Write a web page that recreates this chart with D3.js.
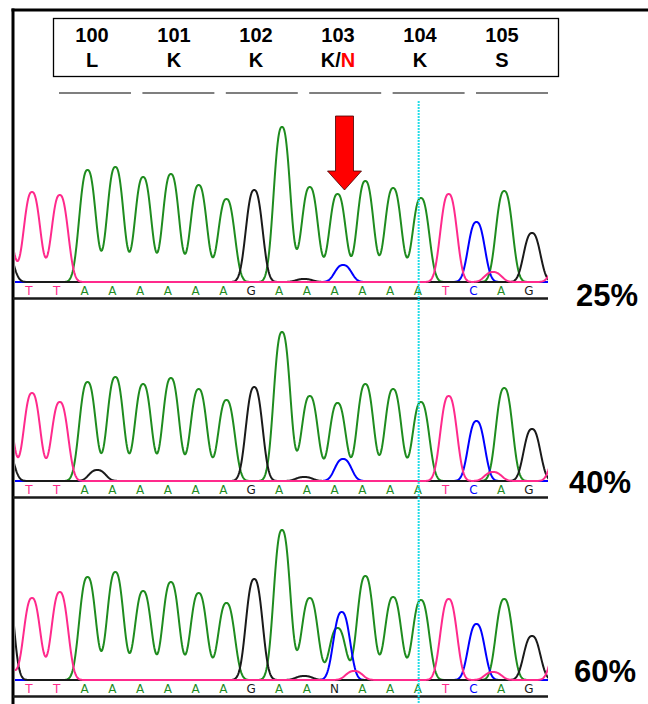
<!DOCTYPE html>
<html><head><meta charset="utf-8">
<script src="https://cdn.jsdelivr.net/npm/d3@7"></script>
<style>body{margin:0;background:#fff}svg{display:block}</style>
</head><body>
<script>
// ---------- data ----------
const codons = [100, 101, 102, 103, 104, 105];
const aminoAcids = ["L", "K", "K", "K/N", "K", "S"];
const baseCalls = ["T","T","A","A","A","A","A","A","G","A","A","A","A","A","A","T","C","A","G"];
const baseCalls60 = ["T","T","A","A","A","A","A","A","G","A","A","N","A","A","A","T","C","A","G"];
const mixLabels = ["25%", "40%", "60%"];
// primary peak heights (signal units) for each called base
const peaks25 = [90, 87, 112, 115, 105, 108, 97, 83, 92, 155, 95, 88, 101, 94, 84, 88, 60, 91, 49];
const peaks40 = [88, 79, 99, 104, 97, 103, 92, 81, 94, 149, 85, 78, 97, 92, 79, 85, 60, 93, 52];
const peaks60 = [82, 88, 103, 108, 89, 98, 87, 77, 101, 150, 82, 52, 104, 83, 80, 81, 56, 81, 44];
// secondary peaks: [channel, base position, height]
const minor25 = [["T",-1,65],["G",-1,38],["C",11.2,17],["T",16.6,10],["G",9.8,3],["T",19,20]];
const minor40 = [["T",-1,85],["G",-1,41],["G",2.35,11],["C",11.2,22],["T",16.6,9],["G",9.8,4],["T",19,37]];
const minor60 = [["T",-1,20],["G",-1,124],["C",11.15,68],["T",11.6,9],["T",16.6,8],["G",9.8,4],["T",19,42]];
const arrowPos = 11.25;
const cursorPos = 13.92;

// ---------- layout ----------
const W = 648, H = 704;
const baselines = [282, 481, 680];
const labelDy = [24, 12, 2];
const labelX = [607, 600, 605];
const colors = {A: "#1f8c1f", C: "#0000ff", G: "#1a1a1a", T: "#ff2a8c", N: "#1a1a1a"};
const panels = [
  {calls: baseCalls, peaks: peaks25, minor: minor25, label: mixLabels[0]},
  {calls: baseCalls, peaks: peaks40, minor: minor40, label: mixLabels[1]},
  {calls: baseCalls60, peaks: peaks60, minor: minor60, label: mixLabels[2]}
];

const svg = d3.select("body").append("svg").attr("width", W).attr("height", H);
const x = d3.scaleLinear().domain([0, 18]).range([32, 532]);
const traceLeft = 15, traceRight = 548;

// outer frame
svg.append("line").attr("x1", 13).attr("x2", 13).attr("y1", 8.5).attr("y2", H)
  .attr("stroke", "#000").attr("stroke-width", 3);
svg.append("line").attr("x1", 11.5).attr("x2", W).attr("y1", 10).attr("y2", 10)
  .attr("stroke", "#000").attr("stroke-width", 3);

// header box
svg.append("rect").attr("x", 53.5).attr("y", 18.5).attr("width", 505).attr("height", 58)
  .attr("fill", "none").attr("stroke", "#000").attr("stroke-width", 1.3);
const hx = d3.scalePoint().domain(codons).range([92, 502]);
const hdr = svg.append("g").attr("font-family", "Liberation Sans, Arial, sans-serif")
  .attr("font-weight", "bold").attr("font-size", 20).attr("text-anchor", "middle");
codons.forEach((c, i) => {
  hdr.append("text").attr("x", hx(c)).attr("y", 42).text(c);
  const t = hdr.append("text").attr("x", hx(c)).attr("y", 67);
  const aa = aminoAcids[i];
  if (aa.includes("/")) {
    const [a, b] = aa.split("/");
    t.append("tspan").attr("fill", "#000").text(a + "/");
    t.append("tspan").attr("fill", "#ff0000").text(b);
  } else t.text(aa);
});
const ux = d3.scaleBand().domain(codons).range([59, 548]).paddingInner(0.137).paddingOuter(0);
svg.append("g").selectAll("line").data(codons).join("line")
  .attr("x1", d => ux(d)).attr("x2", d => ux(d) + ux.bandwidth())
  .attr("y1", 93).attr("y2", 93).attr("stroke", "#555").attr("stroke-width", 1.3);

// peak shape
const shape = d => Math.exp(-Math.pow(Math.abs(d) / 0.38, 2.5));
const samples = d3.range(-1.6, 19.6, 0.02);

svg.append("defs").append("clipPath").attr("id", "traceclip")
  .append("rect").attr("x", traceLeft).attr("y", 0).attr("width", traceRight - traceLeft).attr("height", H);

panels.forEach((p, k) => {
  const b0 = baselines[k];
  const y = d3.scaleLinear().domain([0, 160]).range([b0, b0 - 160]);
  const g = svg.append("g");
  const peakList = [];
  p.calls.forEach((c, i) => {
    const ch = c === "N" ? "A" : c;
    peakList.push({ch, pos: i, h: p.peaks[i]});
  });
  p.minor.forEach(m => peakList.push({ch: m[0], pos: m[1], h: m[2]}));
  const tg = g.append("g").attr("clip-path", "url(#traceclip)");
  ["A", "C", "G", "T"].forEach(ch => {
    const pk = peakList.filter(d => d.ch === ch);
    const pts = samples.map(s => [s, d3.sum(pk, d => d.h * shape(s - d.pos))]);
    const line = d3.line().x(d => x(d[0])).y(d => y(d[1]));
    tg.append("path").attr("d", line(pts)).attr("fill", "none")
      .attr("stroke", colors[ch]).attr("stroke-width", 2).attr("stroke-linejoin", "round");
  });
  // base letters
  g.append("g").attr("font-family", "DejaVu Sans, sans-serif").attr("font-size", 12)
    .attr("text-anchor", "middle").selectAll("text").data(p.calls).join("text")
    .attr("x", (d, i) => x(i) - 3).attr("y", b0 + 12.5)
    .attr("fill", d => colors[d]).text(d => d);
  // rule
  g.append("line").attr("x1", 13).attr("x2", traceRight).attr("y1", b0 + 16.5).attr("y2", b0 + 16.5)
    .attr("stroke", "#1a1a1a").attr("stroke-width", 2.6);
  // label
  g.append("text").attr("x", labelX[k]).attr("y", b0 + labelDy[k])
    .attr("text-anchor", "middle").attr("font-family", "Liberation Sans, Arial, sans-serif")
    .attr("font-weight", "bold").attr("font-size", 31).attr("fill", "#000").text(p.label);
});

// cursor line
svg.append("line").attr("x1", x(cursorPos)).attr("x2", x(cursorPos)).attr("y1", 101).attr("y2", H)
  .attr("stroke", "#22dde8").attr("stroke-width", 2).attr("stroke-dasharray", "2,1");

// red arrow
const ax = x(arrowPos);
const arrow = [[ax - 9, 116], [ax + 9, 116], [ax + 9, 171], [ax + 17, 171], [ax, 190], [ax - 17, 171], [ax - 9, 171]];
svg.append("path").attr("d", d3.line()(arrow) + "Z").attr("fill", "#ff0000")
  .attr("stroke", "#400").attr("stroke-width", 0.8);
</script>
</body></html>
